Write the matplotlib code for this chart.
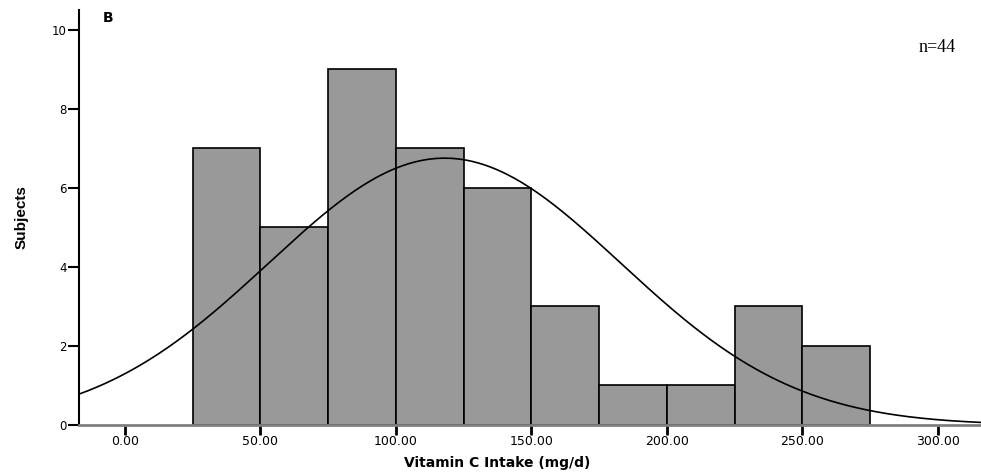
import matplotlib
matplotlib.use("Agg")
import matplotlib.pyplot as plt
import numpy as np

bin_edges = [25, 50, 75, 100, 125, 150, 175, 200, 225, 250, 275]
counts = [7, 5, 9, 7, 6, 3, 1, 1, 3, 2]
n_total = 44
mean_val = 118.0
sd_val = 65.0
xticks = [0, 50, 100, 150, 200, 250, 300]
xtick_labels = ["0.00", "50.00", "100.00", "150.00", "200.00", "250.00", "300.00"]
yticks = [0, 2, 4, 6, 8, 10]

plt.rcParams['font.family'] = ['DejaVu Sans']

fig = plt.figure(figsize=(9.81, 4.73), dpi=100)
ax = fig.add_axes([79/981, 1-425/473, 1-79/981, (425-10)/473])

widths = np.diff(bin_edges)
ax.bar(bin_edges[:-1], counts, width=widths, align='edge', color='#999999',
       edgecolor='black', linewidth=1.2, zorder=2)

xs = np.linspace(-17, 316, 600)
bw = widths[0]
ys = n_total * bw / (sd_val * np.sqrt(2*np.pi)) * np.exp(-0.5*((xs-mean_val)/sd_val)**2)
ax.plot(xs, ys, color='black', linewidth=1.2, zorder=3)

ax.set_xlim(-17, 316)
ax.set_ylim(0, 10.5)
ax.set_xticks(xticks)
ax.set_xticklabels(xtick_labels, fontsize=9)
ax.set_yticks(yticks)
ax.set_yticklabels([str(v) for v in yticks], fontsize=8.5)

for s in ['top', 'right']:
    ax.spines[s].set_visible(False)
ax.spines['left'].set_linewidth(1.5)
ax.spines['bottom'].set_color('#808080')
ax.spines['bottom'].set_linewidth(2)
ax.tick_params(axis='y', length=8, width=1.5, pad=1)
ax.tick_params(axis='x', length=7, width=2, pad=0.5)

ax.set_xlabel("Vitamin C Intake (mg/d)", fontsize=10, fontweight='bold')
ax.xaxis.set_label_coords((497-79)/902, -31/415)
ax.set_ylabel("Subjects", fontsize=11, fontweight='bold',
              family=['Liberation Sans', 'DejaVu Sans'])
ax.yaxis.set_label_coords(-50/902, 0.5)

fig.text(103/981, 1-18/473, "B", fontsize=10, fontweight='bold', va='center', ha='left')
fig.text(956/981, 1-48/473, "n=44", fontsize=13, family=['Liberation Serif'], va='center', ha='right')

fig.savefig("out.png", dpi=100)
